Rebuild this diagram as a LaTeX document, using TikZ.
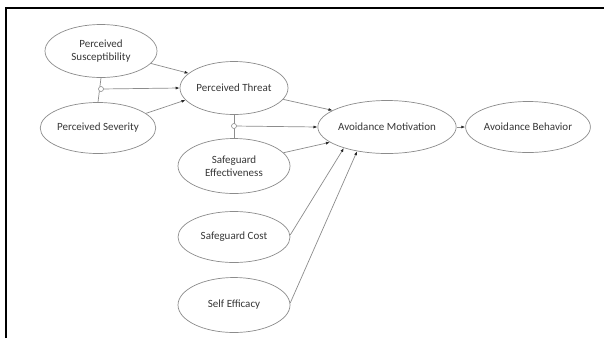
\documentclass[tikz,border=0pt]{standalone}
\usepackage{fontspec}
\setmainfont{Carlito}
\usetikzlibrary{shapes.geometric,arrows.meta}
\definecolor{edge}{RGB}{140,140,140}
\definecolor{txt}{RGB}{55,55,55}
\definecolor{tipc}{RGB}{40,40,40}
\begin{document}
\begin{tikzpicture}[x=1pt,y=-1pt,
  construct/.style={ellipse,draw=edge,line width=0.7pt,inner sep=0pt,
    minimum width=112pt,minimum height=53pt,text=txt,align=center,
    font=\fontsize{11}{13.5}\selectfont},
  conn/.style={draw=edge,line width=0.7pt},
  arr/.style={conn,-{Latex[length=4pt,width=3pt,color=tipc]}},
  junc/.style={circle,draw=edge,fill=white,line width=0.6pt,inner sep=0pt,minimum size=5pt}]
\useasboundingbox (0,0) rectangle (604,338);
\fill[white] (0,0) rectangle (604,338);
\draw[black,line width=2pt] (6,338) -- (6,8) -- (604,8);

\node[construct] (ps) at (101,51) {Perceived\\Susceptibility};
\node[construct,minimum width=106pt,minimum height=51pt] (psev) at (98,128) {Perceived Severity};
\node[construct,minimum width=108pt] (pt) at (234,88) {Perceived Threat};
\node[construct,minimum height=55pt] (se) at (234,166) {Safeguard\\Effectiveness};
\node[construct,minimum height=51pt] (sc) at (234,237) {Safeguard Cost};
\node[construct,minimum height=55pt] (sf) at (234,305) {Self Efficacy};
\node[construct,minimum width=111pt] (am) at (387,127) {Avoidance Motivation};
\node[construct,minimum width=111pt,minimum height=51pt] (ab) at (528,127) {Avoidance Behavior};

\coordinate (j1) at (101,89);
\coordinate (j2) at (234,126);

\draw[conn] (ps.south) -- (psev.north);
\draw[arr] (j1) -- (pt.west);
\node[junc] (jc1) at (j1) {};
\draw[arr] (ps.-14) -- (pt.162);
\draw[arr] (psev.17) -- (pt.194);

\draw[conn] (pt.south) -- (se.north);
\draw[arr] (j2) -- (am.west);
\node[junc] (jc2) at (j2) {};
\draw[arr] (pt.-13) -- (am.163);
\draw[arr] (se.15) -- (am.195);
\draw[arr] (sc.2) -- (am.206);
\draw[arr] (sf.2) -- (am.219);
\draw[arr] (am.east) -- (ab.west);
\end{tikzpicture}
\end{document}
